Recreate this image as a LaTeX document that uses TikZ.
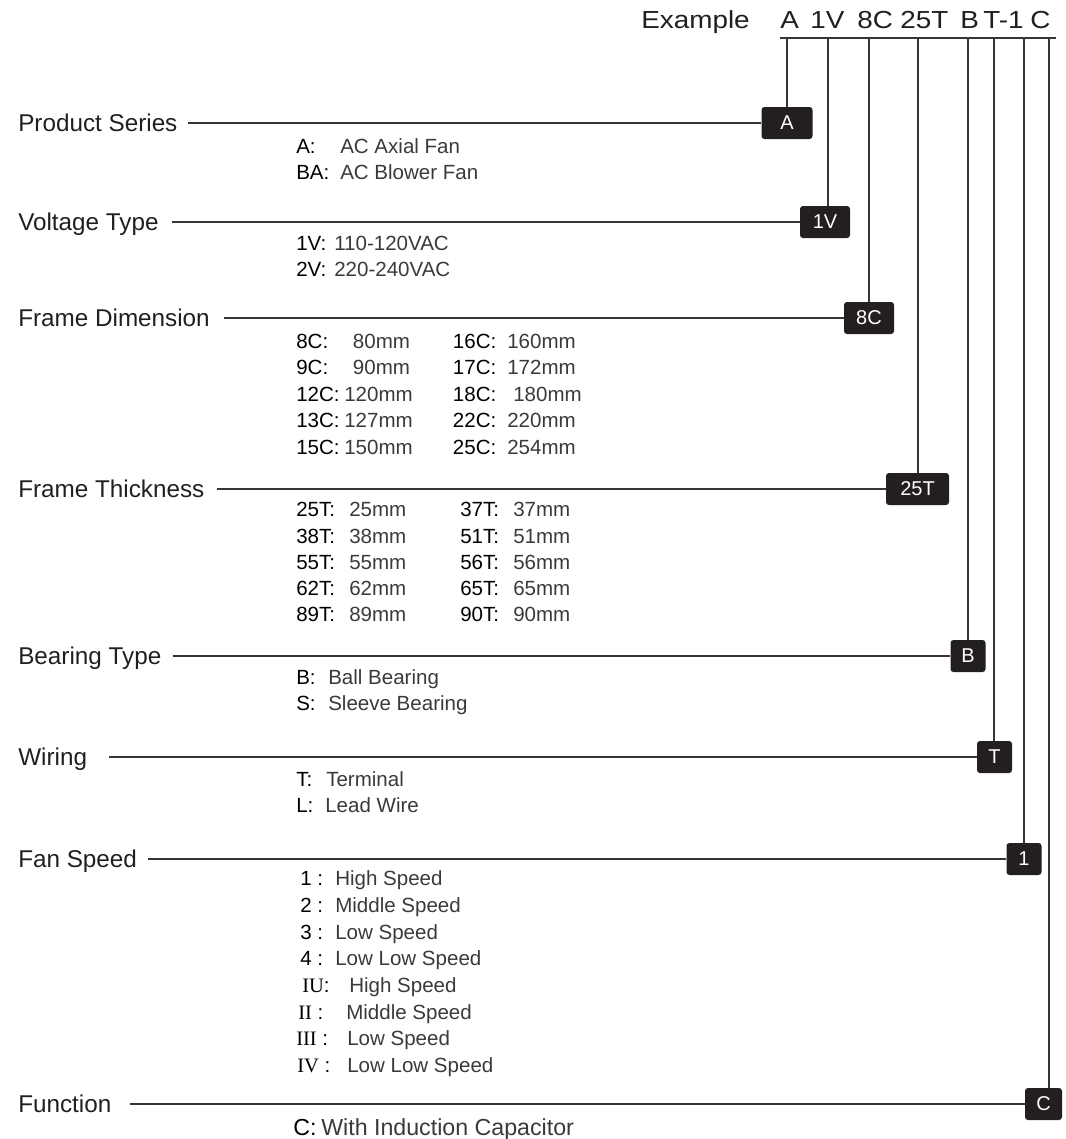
\documentclass[tikz,border=0pt]{standalone}
\usepackage{fontspec}
\setmainfont{Liberation Sans}
\newfontfamily\romanfont{Liberation Serif}
\usetikzlibrary{positioning}
\usepackage{xcolor}

\definecolor{ink}{HTML}{231F20}
\definecolor{descink}{HTML}{3A3A3A}
\newcommand{\stretchx}[1]{\scalebox{1.13}[1]{#1}}

\tikzset{
  rowlabel/.style={anchor=base west, inner sep=0pt, font=\fontsize{18.2}{21}\selectfont, text=ink},
  codebox/.style={fill=ink, rounded corners=2.2pt, minimum height=24pt, inner sep=0pt,
                  text=white, font=\fontsize{15}{18}\selectfont},
  code/.style={anchor=base west, inner sep=0pt, font=\fontsize{15.4}{18}\selectfont, text=black},
  desc/.style={code, text=descink},
  hdr/.style={anchor=base west, inner sep=0pt, font=\fontsize{18.5}{21}\selectfont, text=ink},
  wire/.style={line width=1.3pt, draw=ink!90}
}

\begin{document}
\begin{tikzpicture}[x=0.75pt, y=-0.75pt]
\useasboundingbox (0,0) rectangle (1065,1139);

        % header
        \node[hdr] (example) at (641,28) {\stretchx{Example}};
        \foreach \x/\t [count=\i] in {780/A, 810/1V, 857/8C, 900/25T, 960/B, 983/T-1, 1030/C}
            \node[hdr] (h\i) at (\x,28) {\stretchx{\t}};
        \coordinate (barL) at (780,38);
        \coordinate (barR) at (1056,38);
        \draw[wire] (barL) -- (barR);

        % rows: label, line, code box, drop from the bar
        \foreach \name/\y/\lbl/\gap/\bx/\bw/\vx/\code in {
            ps/123/Product Series/10/787/51/786.7/A,
            vt/222/Voltage Type/13/825/50/828.3/1V,
            fd/318/Frame Dimension/14/869/50/869.3/8C,
            ft/489/Frame Thickness/12/917.5/63/917.7/25T,
            bt/656/Bearing Type/11/968/35/968.3/B,
            wr/757/Wiring/22/994.5/35/994/T,
            fs/859/Fan Speed/11/1024/35/1024.3/1,
            fn/1104/Function/18/1043.5/37/1049.3/C}
        {
            \node[rowlabel] (l\name) at (18,\y+8) {\lbl};
            \node[codebox, minimum width=\bw*0.75pt] (b\name) at (\bx,\y) {\code};
            \draw[wire] (l\name.east |- b\name.west) ++(\gap,0) -- (b\name.west);
            \draw[wire] (\vx,38) -- (\vx,38 |- b\name.north);
        }

        % codes
        \foreach \x/\y/\t [count=\i] in {
            296/153/A:, 296/179/BA:,
            296/250/1V:, 296/276/2V:,
            296/348/8C:, 296/374/9C:, 296/401/12C:, 296/427/13C:, 296/454/15C:,
            452.7/348/16C:, 452.7/374/17C:, 452.7/401/18C:, 452.7/427/22C:, 452.7/454/25C:,
            296/516/25T:, 296/543/38T:, 296/569/55T:, 296/595/62T:, 296/621/89T:,
            460/516/37T:, 460/543/51T:, 460/569/56T:, 460/595/65T:, 460/621/90T:,
            296/684/B:, 296/710/S:,
            296/786/T:, 296/812/L:,
            300/885/1 :, 300/912/2 :, 300/939/3 :, 300/965/4 :,
            302/992/{{\romanfont IU}:}, 298/1019/{{\romanfont II} :},
            296/1045/{{\romanfont III} :}, 297/1072/{{\romanfont IV} :}}
            \node[code] (c\i) at (\x,\y) {\t};
        \node[code, font=\fontsize{17.4}{20}\selectfont] (cfn) at (293,1135) {C:};

        % meanings
        \foreach \x/\y/\t [count=\i] in {
            340/153/AC Axial Fan, 340/179/AC Blower Fan,
            334/250/110-120VAC, 334/276/220-240VAC,
            352.7/348/80mm, 352.7/374/90mm, 344/401/120mm, 344/427/127mm, 344/454/150mm,
            507/348/160mm, 507/374/172mm, 513/401/180mm, 507/427/220mm, 507/454/254mm,
            349/516/25mm, 349/543/38mm, 349/569/55mm, 349/595/62mm, 349/621/89mm,
            513/516/37mm, 513/543/51mm, 513/569/56mm, 513/595/65mm, 513/621/90mm,
            328/684/Ball Bearing, 328/710/Sleeve Bearing,
            326/786/Terminal, 325/812/Lead Wire,
            335/885/High Speed, 335/912/Middle Speed, 335/939/Low Speed, 335/965/Low Low Speed,
            349/992/High Speed, 346/1019/Middle Speed, 347/1045/Low Speed, 347/1072/Low Low Speed}
            \node[desc] (m\i) at (\x,\y) {\t};
        \node[desc, font=\fontsize{17.4}{20}\selectfont] (mfn) at (321,1135) {With Induction Capacitor};

\end{tikzpicture}
\end{document}
